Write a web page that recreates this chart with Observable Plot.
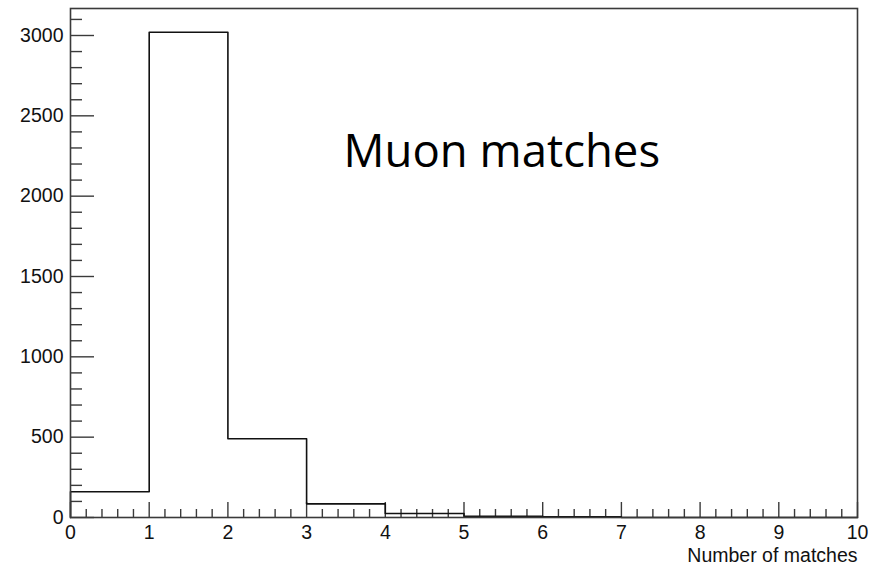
<!DOCTYPE html>
<html>
<head>
<meta charset="utf-8">
<script src="https://cdn.jsdelivr.net/npm/d3@7"></script>
<script src="https://cdn.jsdelivr.net/npm/@observablehq/plot@0.6"></script>
<style>
  html, body { margin: 0; padding: 0; background: #fff; }
  #chart svg { display: block; }
</style>
</head>
<body>
<div id="chart"></div>
<script>
// Histogram of the number of matches per muon (bins of width 1 from 0 to 10)
const binLowEdges = [0, 1, 2, 3, 4, 5, 6, 7, 8, 9];
const binCounts = [160, 3020, 490, 85, 25, 8, 4, 0, 0, 0];
const xRange = [0, 10];
const yRange = [0, 3168];
const xMajorTicks = [0, 1, 2, 3, 4, 5, 6, 7, 8, 9, 10];
const yMajorTicks = [0, 500, 1000, 1500, 2000, 2500, 3000];
const xTitle = "Number of matches";
const annotation = "Muon matches";

const W = 871, H = 568;
const M = {top: 8, right: 14, bottom: 51, left: 70};
const frameH = H - M.top - M.bottom;
const frameW = W - M.left - M.right;

// minor ticks: 5 subdivisions per major interval
const xMinorTicks = d3.range(0, 50 + 1).map(i => i / 5).filter(v => !xMajorTicks.includes(v));
const yMinorTicks = d3.range(0, 32).map(i => i * 100).filter(v => v <= yRange[1] && !yMajorTicks.includes(v));

// outline of the step histogram: rise at the first edge, step across each bin, drop at the last edge
const outline = [{x: xRange[0], y: 0}]
  .concat(binLowEdges.map((x, i) => ({x, y: binCounts[i]})))
  .concat([{x: xRange[1], y: binCounts[binCounts.length - 1]}, {x: xRange[1], y: 0}]);

const axisColor = "#3a3a3a";
const font = "'Liberation Sans', Arial, Helvetica, sans-serif";

const chart = Plot.plot({
  width: W,
  height: H,
  marginTop: M.top,
  marginRight: M.right,
  marginBottom: M.bottom,
  marginLeft: M.left,
  style: {fontFamily: font, background: "#fff"},
  x: {domain: xRange},
  y: {domain: yRange},
  marks: [
    // tick labels
    Plot.axisX({ticks: xMajorTicks, tickSize: 0, tickPadding: 8, fontSize: 19.5, fill: "#111", tickFormat: d => String(d), label: null}),
    Plot.axisY({ticks: yMajorTicks, tickSize: 0, tickPadding: 7, fontSize: 19.5, fill: "#111", tickFormat: d => String(d), label: null}),
    // inward tick marks
    Plot.ruleX(xMajorTicks, {x: d => d, insetTop: frameH - 15, stroke: axisColor, strokeWidth: 1.4}),
    Plot.ruleX(xMinorTicks, {x: d => d, insetTop: frameH - 8, stroke: axisColor, strokeWidth: 1.4}),
    Plot.ruleY(yMajorTicks, {y: d => d, insetRight: frameW - 24, stroke: axisColor, strokeWidth: 1.4}),
    Plot.ruleY(yMinorTicks, {y: d => d, insetRight: frameW - 12, stroke: axisColor, strokeWidth: 1.4}),
    // histogram outline
    Plot.line(outline, {x: "x", y: "y", curve: "step-after", stroke: "#111", strokeWidth: 1.6}),
    Plot.frame({stroke: axisColor, strokeWidth: 1.6}),
    // x axis title, right-aligned to the frame
    Plot.text([xTitle], {frameAnchor: "bottom-right", dy: 44, textAnchor: "end", lineAnchor: "bottom", fontSize: 19.5, fill: "#111", text: d => d}),
    // annotation inside the frame
    Plot.text([annotation], {x: [3.47], y: [2184], text: d => d, textAnchor: "start", lineAnchor: "bottom",
      fontSize: 45.5, fontFamily: "'Open Sans', 'Noto Sans', sans-serif", fill: "#000"})
  ]
});

document.getElementById("chart").appendChild(chart);
</script>
</body>
</html>
